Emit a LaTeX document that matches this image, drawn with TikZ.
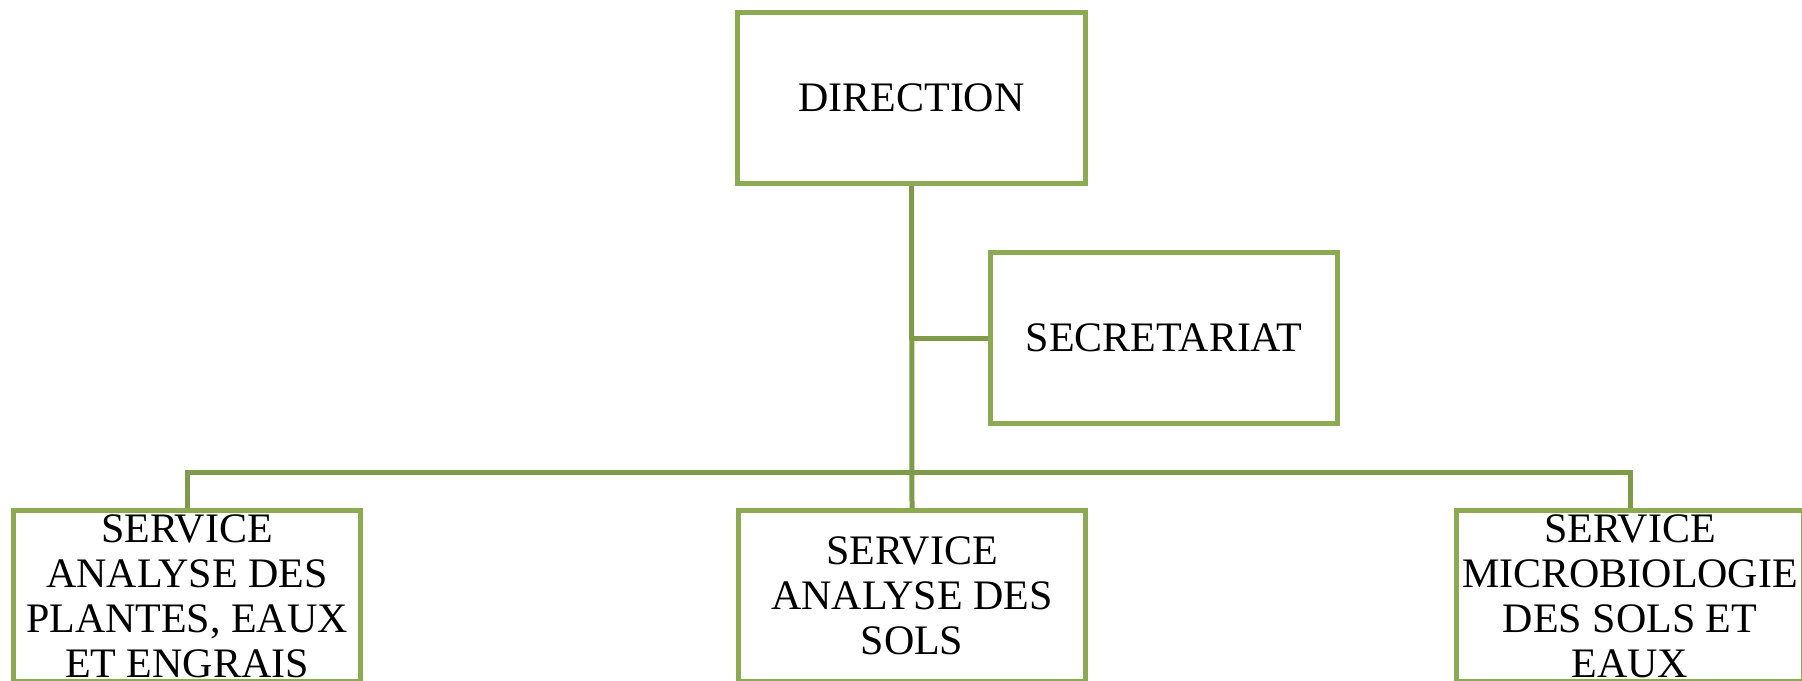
\documentclass[tikz,border=0pt]{standalone}
\usepackage{fontspec}
\setmainfont{Liberation Serif}
\definecolor{boxgreen}{HTML}{8CAA52}
\definecolor{linegreen}{HTML}{7F9A48}
\begin{document}
\begin{tikzpicture}[x=0.02cm,y=-0.02cm,
  orgbox/.style={draw=boxgreen, line width=0.1cm, fill=white, rectangle,
    minimum width=6.96cm, minimum height=3.42cm, inner sep=0pt,
    align=center, font=\fontsize{23.9}{25.6}\selectfont},
  conn/.style={draw=linegreen, line width=0.1cm}]
\clip (0,0) rectangle (1802,680);
\useasboundingbox (0,0) rectangle (1802,680);
\fill[white] (0,0) rectangle (1802,680);
\coordinate (bus) at (912,472);
\coordinate (secj) at (912,338);
\node[orgbox] (dir) at (911.5,98) {DIRECTION};
\node[orgbox] (sec) at (1164,338) {SECRETARIAT};
\node[orgbox] (left) at (187,596) {SERVICE\\ANALYSE DES\\PLANTES, EAUX\\ET ENGRAIS};
\node[orgbox] (mid) at (912,596) {SERVICE\\ANALYSE DES\\SOLS};
\node[orgbox] (right) at (1630,596) {SERVICE\\MICROBIOLOGIE\\DES SOLS ET\\EAUX};
\draw[conn] (dir.south) -- (mid.north);
\draw[conn] (left.north) |- (bus) -| (right.north);
\draw[conn] (secj) -- (sec.west);
\end{tikzpicture}
\end{document}
